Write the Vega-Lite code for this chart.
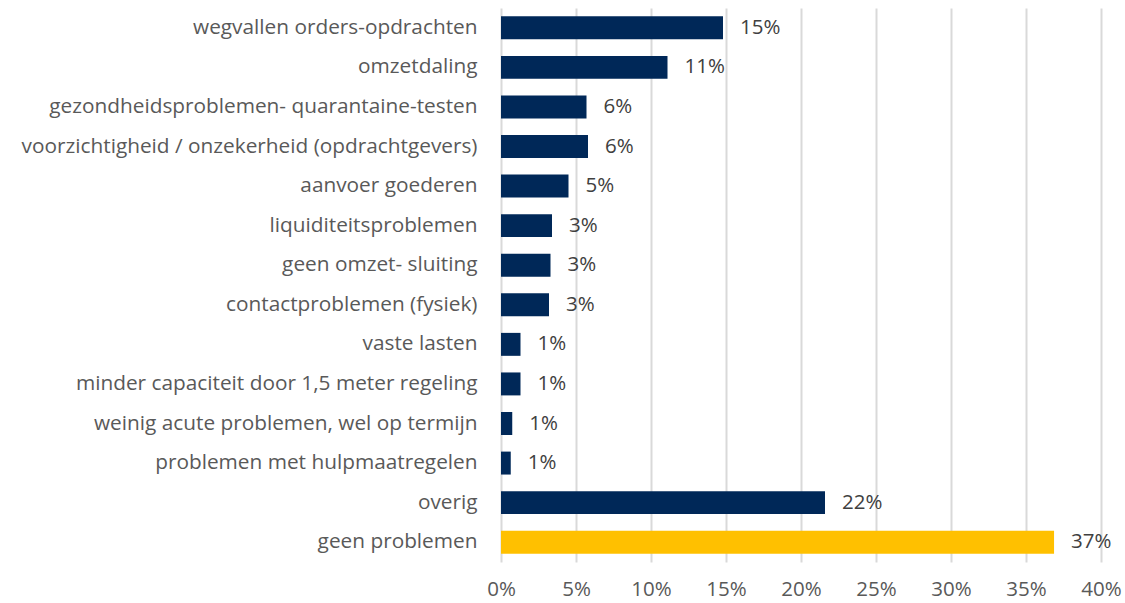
{
  "$schema": "https://vega.github.io/schema/vega-lite/v6.json",
  "width": 600,
  "height": 554,
  "autosize": {"type": "none"},
  "padding": {"left": 501, "top": 8, "right": 24, "bottom": 41},
  "background": "white",
  "config": {"view": {"stroke": null}, "font": "Open Sans"},
  "data": {"values": [
    {"cat": "wegvallen orders-opdrachten", "v": 0.148, "grp": "a"},
    {"cat": "omzetdaling", "v": 0.111, "grp": "a"},
    {"cat": "gezondheidsproblemen- quarantaine-testen", "v": 0.057, "grp": "a"},
    {"cat": "voorzichtigheid / onzekerheid (opdrachtgevers)", "v": 0.058, "grp": "a"},
    {"cat": "aanvoer goederen", "v": 0.045, "grp": "a"},
    {"cat": "liquiditeitsproblemen", "v": 0.034, "grp": "a"},
    {"cat": "geen omzet- sluiting", "v": 0.033, "grp": "a"},
    {"cat": "contactproblemen (fysiek)", "v": 0.032, "grp": "a"},
    {"cat": "vaste lasten", "v": 0.013, "grp": "a"},
    {"cat": "minder capaciteit door 1,5 meter regeling", "v": 0.013, "grp": "a"},
    {"cat": "weinig acute problemen, wel op termijn", "v": 0.0075, "grp": "a"},
    {"cat": "problemen met hulpmaatregelen", "v": 0.0065, "grp": "a"},
    {"cat": "overig", "v": 0.216, "grp": "a"},
    {"cat": "geen problemen", "v": 0.3687, "grp": "b"}
  ]},
  "encoding": {
    "y": {"field": "cat", "type": "nominal", "sort": null,
      "scale": {"paddingInner": 0.42, "paddingOuter": 0.21},
      "axis": {"title": null, "ticks": false, "domain": false, "labelFontSize": 20.8, "labelColor": "#595959", "labelPadding": 24, "labelLimit": 500}},
    "x": {"field": "v", "type": "quantitative",
      "scale": {"domain": [0, 0.4], "nice": false},
      "axis": {"title": null, "format": ".0%", "values": [0,0.05,0.1,0.15,0.2,0.25,0.3,0.35,0.4], "ticks": false, "domain": false, "grid": true, "gridColor": "#d9d9d9", "gridWidth": 2, "labelFontSize": 20.5, "labelColor": "#595959", "labelPadding": 17, "labelFlush": false, "labelOverlap": false}}
  },
  "layer": [
    {"mark": {"type": "bar"},
     "encoding": {"color": {"field": "grp", "type": "nominal", "scale": {"domain": ["a", "b"], "range": ["#002858", "#ffc000"]}, "legend": null}}},
    {"mark": {"type": "text", "align": "left", "dx": 17, "fontSize": 20.5, "color": "#404040"},
     "encoding": {"text": {"field": "v", "type": "quantitative", "format": ".0%"}}}
  ]
}
